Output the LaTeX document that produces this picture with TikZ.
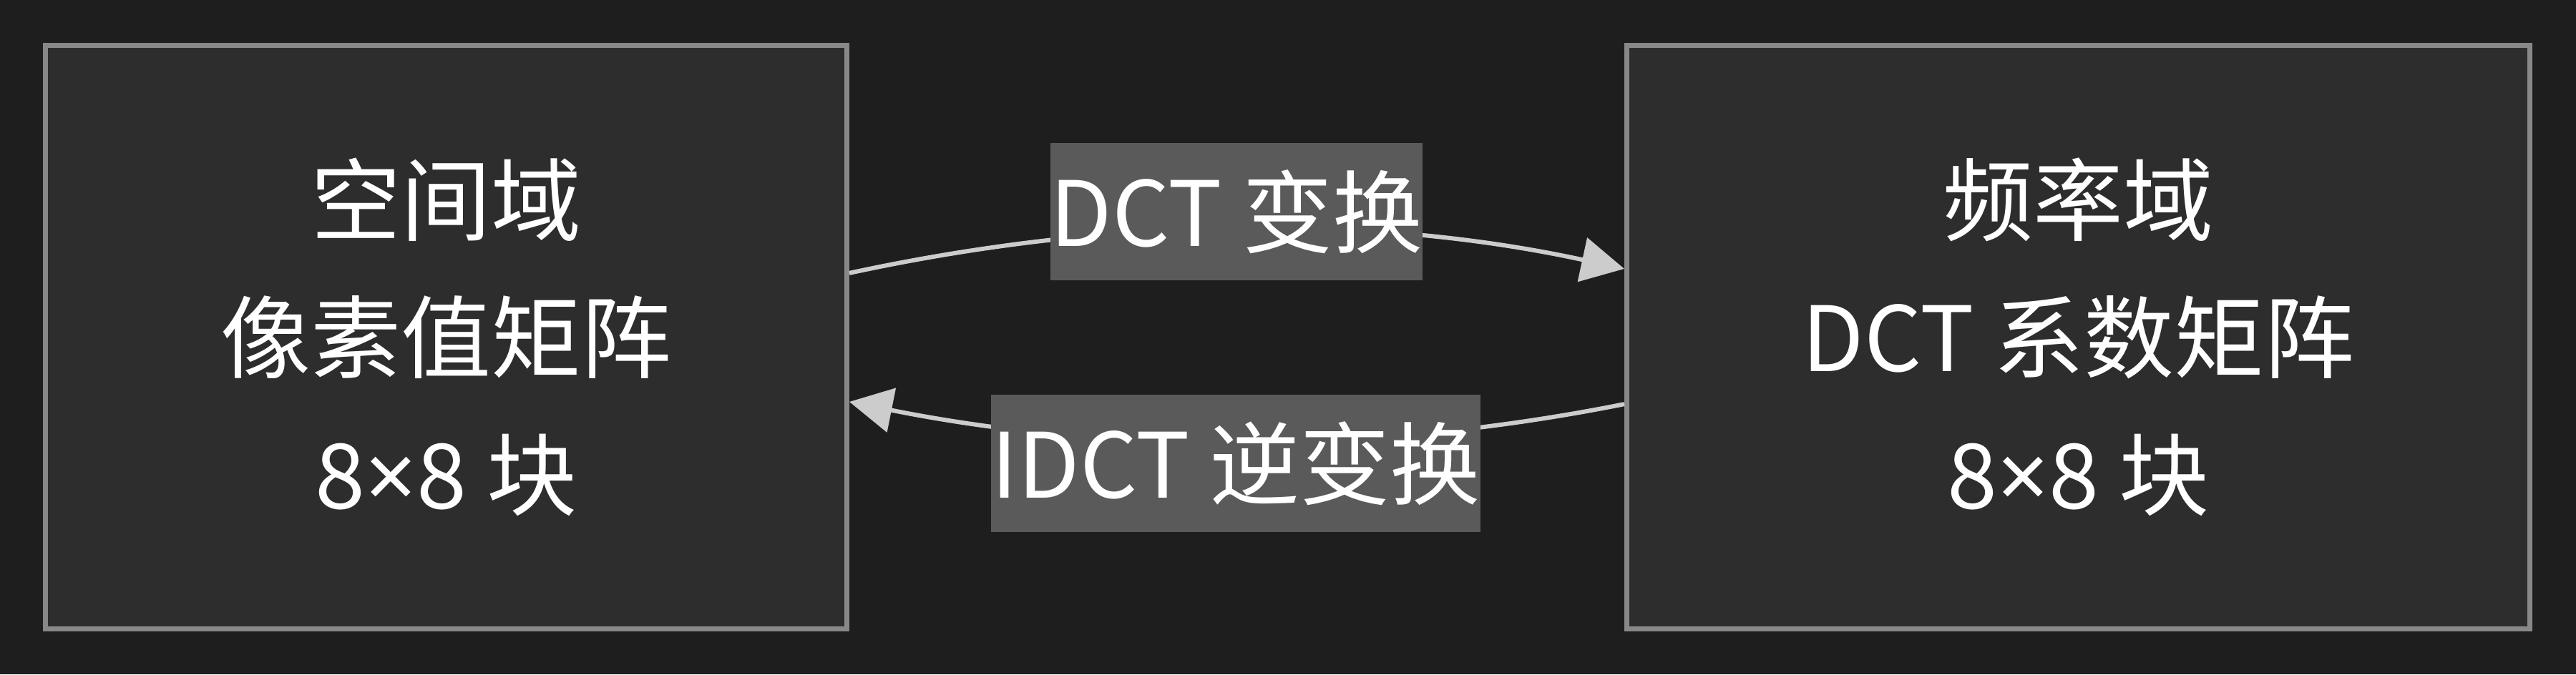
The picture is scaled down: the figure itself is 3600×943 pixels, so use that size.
\documentclass[tikz,border=0pt]{standalone}
\usepackage{fontspec}
\setmainfont{Noto Sans CJK SC}
\newfontfamily\latinx{Noto Sans}
\usetikzlibrary{arrows.meta}
\definecolor{bg}{HTML}{1E1E1E}
\definecolor{boxfill}{HTML}{2D2D2D}
\definecolor{boxline}{HTML}{888888}
\definecolor{edgecol}{HTML}{CCCCCC}
\definecolor{lblfill}{HTML}{5A5A5A}
\begin{document}
\begin{tikzpicture}[x=0.25pt,y=-0.25pt,
  txt/.style={text=white,font=\fontsize{31.5}{48}\selectfont,align=center},
  domainbox/.style={txt,draw=boxline,fill=boxfill,line width=1.75pt,inner sep=0pt,minimum height=204pt},
  lbl/.style={txt,fill=lblfill,inner xsep=0pt,inner ysep=0pt,minimum height=48pt},
  conn/.style={draw=edgecol,line width=1.5pt,-{Triangle[length=15pt,width=15.5pt]}}]
\fill[bg] (0,0) rectangle (3600,943);
\useasboundingbox (0,0) rectangle (3600,943);
\node[domainbox,minimum width=280pt] (A) at (623.5,471.5) {空间域\\像素值矩阵\\8{\latinx ×}8 块};
\node[domainbox,minimum width=315.5pt] (B) at (2904.5,471.5) {频率域\\DCT 系数矩阵\\8{\latinx ×}8 块};
\draw[conn] ([yshift=22.4pt]A.east) .. controls +(360,-78) and +(-360,-78) .. ([yshift=23.9pt]B.west);
\draw[conn] ([yshift=-23.4pt]B.west) .. controls +(-360,72) and +(360,72) .. ([yshift=-22.6pt]A.east);
\node[lbl] (L1) at (1728,296) {DCT 变换};
\node[lbl] (L2) at (1727,648) {IDCT 逆变换};
\end{tikzpicture}
\end{document}
